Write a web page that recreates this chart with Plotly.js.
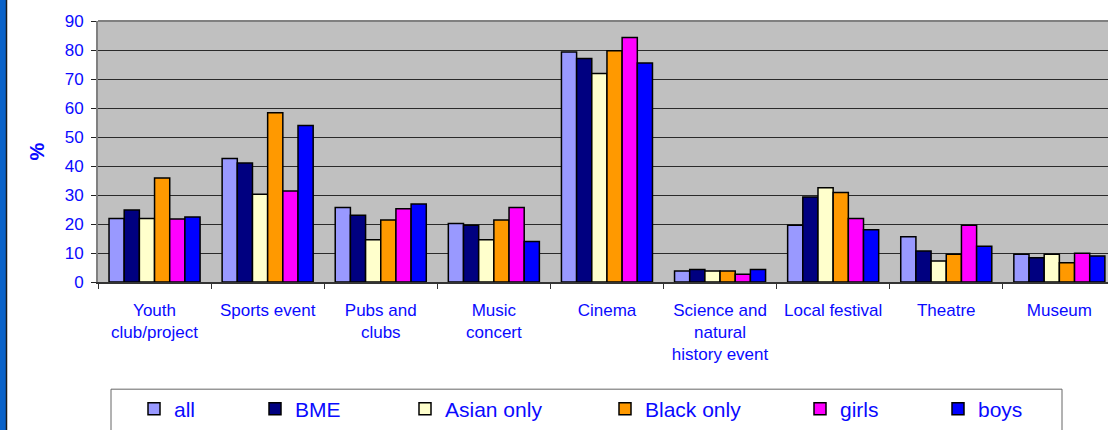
<!DOCTYPE html>
<html>
<head>
<meta charset="utf-8">
<script src="https://cdn.plot.ly/plotly-3.0.1.min.js"></script>
<style>
  html, body { margin: 0; padding: 0; background: #ffffff; }
  #chart { width: 1108px; height: 430px; }
</style>
</head>
<body>
<div id="chart"></div>
<script>
// Activities attended, by group (%)
const categories = [
  'Youth<br>club/project', 'Sports event', 'Pubs and<br>clubs', 'Music<br>concert',
  'Cinema', 'Science and<br>natural<br>history event', 'Local festival', 'Theatre', 'Museum'
];

const seriesNames = ['all', 'BME', 'Asian only', 'Black only', 'girls', 'boys'];

const allValues   = [21.9, 42.6, 25.7, 20.2, 79.3, 3.8, 19.6, 15.6, 9.6];
const bmeValues   = [24.8, 41.0, 23.0, 19.6, 77.1, 4.3, 29.3, 10.7, 8.4];
const asianValues = [21.9, 30.3, 14.6, 14.6, 71.9, 3.8, 32.5, 7.2, 9.6];
const blackValues = [35.9, 58.4, 21.4, 21.4, 79.7, 3.8, 30.9, 9.6, 6.6];
const girlsValues = [21.7, 31.4, 25.3, 25.7, 84.3, 2.7, 21.9, 19.6, 9.9];
const boysValues  = [22.4, 54.0, 26.9, 14.0, 75.5, 4.3, 18.0, 12.3, 9.0];

const yTickValues = [0, 10, 20, 30, 40, 50, 60, 70, 80, 90];

const seriesValues = [allValues, bmeValues, asianValues, blackValues, girlsValues, boysValues];
const seriesColors = ['#9999ff', '#000080', '#ffffcc', '#ff9900', '#ff00ff', '#0000ff'];

// Page geometry (px)
const W = 1108, H = 430;
const M = { l: 98, r: 0, t: 21, b: 146 };
const plotW = W - M.l - M.r;
const plotH = H - M.t - M.b;
const px2x = p => (p - M.l) / plotW;
const px2y = p => (H - M.b - p) / plotH;

const FONT = '"Liberation Sans", Arial, sans-serif';
const TEXT_BLUE = '#0a0aff';

// Each series gets its own legend so entries can sit at their own spots
const legendTextLeft = [174, 295, 445, 645, 840, 978];
const legendNames = ['legend', 'legend2', 'legend3', 'legend4', 'legend5', 'legend6'];

const traces = seriesNames.map((name, i) => ({
  type: 'bar',
  name: name,
  x: categories,
  y: seriesValues[i],
  legend: legendNames[i],
  showlegend: true,
  marker: { color: seriesColors[i], line: { color: '#000000', width: 1.5 } },
  hoverinfo: 'x+y+name'
}));

const layout = {
  width: W,
  height: H,
  margin: M,
  showlegend: true,
  paper_bgcolor: '#ffffff',
  plot_bgcolor: '#c0c0c0',
  barmode: 'group',
  bargap: 0.195,
  bargroupgap: 0,
  font: { family: FONT, color: TEXT_BLUE },
  xaxis: {
    type: 'category',
    range: [-0.5, 8.43],
    tickson: 'boundaries',
    ticks: 'outside',
    ticklen: 5,
    tickcolor: '#333333',
    tickwidth: 1,
    showline: true,
    linecolor: '#333333',
    linewidth: 1.5,
    showgrid: false,
    tickfont: { family: FONT, size: 17, color: TEXT_BLUE },
    ticklabelstandoff: 12,
    fixedrange: true
  },
  yaxis: {
    range: [0, 90],
    tickvals: yTickValues,
    ticktext: yTickValues.map(String),
    ticks: 'outside',
    ticklen: 5,
    tickcolor: '#222222',
    showline: true,
    linecolor: '#808080',
    linewidth: 2,
    showgrid: true,
    gridcolor: '#2a2a2a',
    gridwidth: 1,
    zeroline: false,
    tickfont: { family: FONT, size: 17, color: TEXT_BLUE },
    ticklabelstandoff: 4,
    title: { text: '<b>%</b>', font: { family: FONT, size: 20, color: TEXT_BLUE }, standoff: 15 },
    fixedrange: true
  },
  shapes: [
    // top edge of the plot area
    { type: 'line', xref: 'paper', yref: 'paper', x0: 0, x1: 1, y0: 1, y1: 1,
      line: { color: '#808080', width: 2 }, layer: 'above' },
    // legend frame
    { type: 'rect', xref: 'paper', yref: 'paper',
      x0: px2x(111), x1: px2x(1062), y0: px2y(392), y1: px2y(445),
      line: { color: '#666666', width: 1 }, fillcolor: 'rgba(0,0,0,0)' },
    // blue strip on the left edge of the page
    { type: 'rect', xref: 'paper', yref: 'paper',
      x0: px2x(0), x1: px2x(6), y0: px2y(H + 5), y1: px2y(-5),
      line: { width: 0 }, fillcolor: '#0a62c8' },
    { type: 'line', xref: 'paper', yref: 'paper',
      x0: px2x(6.5), x1: px2x(6.5), y0: px2y(H + 5), y1: px2y(-5),
      line: { color: '#1a1a1a', width: 1.5 } }
  ]
};

legendNames.forEach((key, i) => {
  layout[key] = {
    visible: true,
    x: px2x(legendTextLeft[i] - 40),
    xanchor: 'left',
    y: px2y(412),
    yanchor: 'middle',
    orientation: 'h',
    bgcolor: 'rgba(0,0,0,0)',
    borderwidth: 0,
    itemwidth: 30,
    font: { family: FONT, size: 21, color: TEXT_BLUE }
  };
});

Plotly.newPlot('chart', traces, layout, { displayModeBar: false, staticPlot: true });
</script>
</body>
</html>
